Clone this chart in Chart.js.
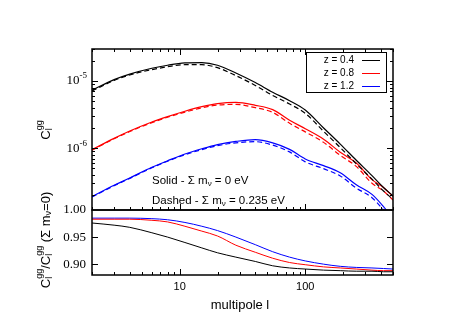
<!DOCTYPE html>
<html>
<head>
<meta charset="utf-8">
<script src="https://cdn.jsdelivr.net/npm/chart.js@4/dist/chart.umd.min.js"></script>
<style>
body { margin:0; background:#fff; width:463px; height:324px; position:relative; overflow:hidden; }
canvas { position:absolute; left:0; }
#topChart { top:0; }
#botChart { top:180px; }
</style>
</head>
<body>
<canvas id="topChart" width="463" height="212"></canvas>
<canvas id="botChart" width="463" height="144"></canvas>
<script>
// multipoles
var ell = [2, 3, 4, 6, 8, 11, 15, 20, 28, 40, 55, 75, 100, 140, 190, 255, 340, 420, 500];

// C_l^gg, solid = massless nu, dashed = sum m_nu 0.235 eV
var z04_solid  = [7.3e-6, 1.05e-5, 1.27e-5, 1.55e-5, 1.72e-5, 1.86e-5, 1.88e-5, 1.72e-5, 1.32e-5, 9.5e-6, 6.8e-6, 5.1e-6, 3.7e-6, 2.0e-6, 1.15e-6, 6.6e-7, 3.9e-7, 2.6e-7, 1.95e-7];
var z04_dashed = [7.12e-6, 1.02e-5, 1.23e-5, 1.48e-5, 1.63e-5, 1.75e-5, 1.75e-5, 1.58e-5, 1.205e-5, 8.6e-6, 6.1e-6, 4.55e-6, 3.3e-6, 1.78e-6, 1.02e-6, 5.85e-7, 3.46e-7, 2.3e-7, 1.73e-7];
var z08_solid  = [9.5e-7, 1.4e-6, 1.8e-6, 2.45e-6, 2.95e-6, 3.55e-6, 4.15e-6, 4.6e-6, 4.8e-6, 4.35e-6, 3.75e-6, 2.6e-6, 1.95e-6, 1.36e-6, 8.7e-7, 6.0e-7, 3.4e-7, 2.6e-7, 1.9e-7];
var z08_dashed = [9.34e-7, 1.38e-6, 1.77e-6, 2.4e-6, 2.89e-6, 3.44e-6, 3.99e-6, 4.38e-6, 4.49e-6, 4.01e-6, 3.42e-6, 2.35e-6, 1.75e-6, 1.22e-6, 7.8e-7, 5.35e-7, 3.0e-7, 2.3e-7, 1.69e-7];
var z12_solid  = [1.9e-7, 2.8e-7, 3.6e-7, 5.2e-7, 6.5e-7, 8.2e-7, 9.8e-7, 1.13e-6, 1.26e-6, 1.34e-6, 1.2e-6, 9.6e-7, 6.9e-7, 5.5e-7, 4.3e-7, 2.85e-7, 2.05e-7, 1.35e-7, 9.0e-8];
var z12_dashed = [1.87e-7, 2.76e-7, 3.55e-7, 5.1e-7, 6.4e-7, 8.0e-7, 9.5e-7, 1.09e-6, 1.2e-6, 1.25e-6, 1.11e-6, 8.8e-7, 6.25e-7, 4.95e-7, 3.85e-7, 2.55e-7, 1.83e-7, 1.2e-7, 8.0e-8];

// ratio massive / massless
var ratio_z04 = [0.976, 0.972, 0.968, 0.958, 0.950, 0.940, 0.930, 0.921, 0.913, 0.905, 0.897, 0.893, 0.891, 0.889, 0.888, 0.887, 0.887, 0.886, 0.886];
var ratio_z08 = [0.983, 0.983, 0.983, 0.981, 0.978, 0.970, 0.961, 0.952, 0.935, 0.922, 0.911, 0.903, 0.899, 0.895, 0.893, 0.891, 0.889, 0.888, 0.888];
var ratio_z12 = [0.985, 0.985, 0.985, 0.984, 0.982, 0.977, 0.970, 0.962, 0.950, 0.936, 0.923, 0.913, 0.906, 0.900, 0.896, 0.894, 0.893, 0.892, 0.891];

var labels = ["z = 0.4", "z = 0.8", "z = 1.2"];
var colors = ["#000000", "#ff0000", "#0000ff"];

// ticks
var xMajor = [10, 100];
var xMajorLabels = ["10", "100"];
var xMinor = [2,3,4,5,6,7,8,9,20,30,40,50,60,70,80,90,200,300,400,500];
var yTopMajor = [1e-5, 1e-6];
var yTopExp = ["-5", "-6"];
var yTopMinor = [2e-7,3e-7,4e-7,5e-7,6e-7,7e-7,8e-7,9e-7,2e-6,3e-6,4e-6,5e-6,6e-6,7e-6,8e-6,9e-6,2e-5,3e-5];
var yBotMajor = [1.00, 0.95, 0.90];
var yBotLabels = ["1.00", "0.95", "0.90"];

var SANS = "'Liberation Sans', Arial, sans-serif";
var SERIF = "'Liberation Serif', 'Times New Roman', serif";

function pts(ys) {
  return ell.map(function(l, i) { return {x: l, y: ys[i]}; });
}

function line(ys, color, dashed, width) {
  return {
    data: pts(ys),
    borderColor: color,
    borderWidth: width || 1.2,
    borderDash: dashed ? [5, 3] : [],
    pointRadius: 0,
    fill: false,
    cubicInterpolationMode: 'monotone'
  };
}

// text made of pieces; a piece with hold:true doesn't advance (sub/sup stack)
function rich(ctx, parts, x, y, align, rot) {
  var w = 0, held = 0;
  parts.forEach(function(p) {
    ctx.font = p.f;
    var pw = ctx.measureText(p.t).width;
    if (p.hold) held = pw; else { w += Math.max(pw, held); held = 0; }
  });
  ctx.save();
  ctx.translate(x, y);
  if (rot) ctx.rotate(rot);
  var cx = align === 'center' ? -w / 2 : (align === 'right' ? -w : 0);
  held = 0;
  ctx.fillStyle = '#000';
  ctx.textAlign = 'left';
  ctx.textBaseline = 'middle';
  parts.forEach(function(p) {
    ctx.font = p.f;
    ctx.fillText(p.t, cx, p.dy || 0);
    var pw = ctx.measureText(p.t).width;
    if (p.hold) held = pw; else { cx += Math.max(pw, held); held = 0; }
  });
  ctx.restore();
}

function frame(chart, o) {
  var ctx = chart.ctx, a = chart.chartArea;
  var xs = chart.scales.x, ys = chart.scales.y;
  ctx.save();
  ctx.strokeStyle = '#000';
  ctx.lineWidth = 1;
  ctx.beginPath();
  function xt(v, len) {
    var px = Math.round(xs.getPixelForValue(v)) + 0.5;
    if (o.xBottom) { ctx.moveTo(px, a.bottom); ctx.lineTo(px, a.bottom - len); }
    if (o.xTop) { ctx.moveTo(px, a.top); ctx.lineTo(px, a.top + len); }
  }
  function yt(v, len) {
    var py = Math.round(ys.getPixelForValue(v)) + 0.5;
    ctx.moveTo(a.left, py); ctx.lineTo(a.left + len, py);
    ctx.moveTo(a.right, py); ctx.lineTo(a.right - len, py);
  }
  xMajor.forEach(function(v) { xt(v, 6); });
  xMinor.forEach(function(v) { xt(v, 3); });
  o.yMajor.forEach(function(v) { yt(v, 6); });
  (o.yMinor || []).forEach(function(v) { yt(v, 3); });
  ctx.stroke();
  ctx.lineWidth = 1.5;
  ctx.strokeRect(a.left, a.top, a.right - a.left, a.bottom - a.top);
  ctx.restore();
}

var topDeco = {
  id: 'topDeco',
  afterDraw: function(chart) {
    var ctx = chart.ctx, ys = chart.scales.y;
    frame(chart, {xBottom: true, xTop: true, yMajor: yTopMajor, yMinor: yTopMinor});
    yTopMajor.forEach(function(v, i) {
      rich(ctx, [{t: "10", f: "13px " + SERIF}, {t: yTopExp[i], f: "9px " + SERIF, dy: -5}],
        87, ys.getPixelForValue(v), 'right');
    });
    // y title
    rich(ctx, [{t: "C", f: "13px " + SANS},
               {t: "gg", f: "9px " + SANS, dy: -6, hold: true},
               {t: "l", f: "9px " + SANS, dy: 4}], 46, 130, 'center', -Math.PI / 2);
    // legend
    ctx.save();
    ctx.strokeStyle = '#000';
    ctx.lineWidth = 1;
    ctx.strokeRect(306.5, 52.5, 80, 40);
    ctx.font = "10px " + SANS;
    ctx.textAlign = 'right';
    ctx.textBaseline = 'middle';
    [60, 73, 86].forEach(function(y, i) {
      ctx.fillStyle = '#000';
      ctx.fillText(labels[i], 354, y);
      ctx.strokeStyle = colors[i];
      ctx.beginPath();
      ctx.moveTo(362, y + 0.5);
      ctx.lineTo(380, y + 0.5);
      ctx.stroke();
    });
    ctx.restore();
    // annotation
    rich(ctx, [{t: "Solid - \u03A3 m", f: "11.5px " + SANS}, {t: "\u03BD", f: "8px " + SANS, dy: 3},
               {t: " = 0 eV", f: "11.5px " + SANS}], 152, 181, 'left');
    rich(ctx, [{t: "Dashed - \u03A3 m", f: "11.5px " + SANS}, {t: "\u03BD", f: "8px " + SANS, dy: 3},
               {t: " = 0.235 eV", f: "11.5px " + SANS}], 152, 201, 'left');
  }
};

var botDeco = {
  id: 'botDeco',
  afterDraw: function(chart) {
    var ctx = chart.ctx, xs = chart.scales.x, ys = chart.scales.y, a = chart.chartArea;
    frame(chart, {xBottom: true, xTop: false, yMajor: yBotMajor.slice(1)});
    yBotMajor.forEach(function(v, i) {
      rich(ctx, [{t: yBotLabels[i], f: "13px " + SERIF}], 86, ys.getPixelForValue(v), 'right');
    });
    xMajor.forEach(function(v, i) {
      rich(ctx, [{t: xMajorLabels[i], f: "11px " + SANS}], xs.getPixelForValue(v), a.bottom + 12, 'center');
    });
    rich(ctx, [{t: "multipole l", f: "13px " + SANS}], 240, a.bottom + 30, 'center');
    rich(ctx, [{t: "C", f: "13px " + SANS},
               {t: "gg", f: "9px " + SANS, dy: -6, hold: true},
               {t: "l", f: "9px " + SANS, dy: 4},
               {t: "/C", f: "13px " + SANS},
               {t: "gg", f: "9px " + SANS, dy: -6, hold: true},
               {t: "l", f: "9px " + SANS, dy: 4},
               {t: " (\u03A3 m", f: "13px " + SANS},
               {t: "\u03BD", f: "9px " + SANS, dy: 3},
               {t: "=0)", f: "13px " + SANS}], 46, 60, 'center', -Math.PI / 2);
  }
};

var common = {
  responsive: false,
  animation: false,
  events: [],
  plugins: { legend: { display: false }, tooltip: { enabled: false } }
};

new Chart(document.getElementById('topChart'), {
  type: 'line',
  data: {
    datasets: [
      line(z04_solid, colors[0], false), line(z04_dashed, colors[0], true),
      line(z08_solid, colors[1], false), line(z08_dashed, colors[1], true),
      line(z12_solid, colors[2], false), line(z12_dashed, colors[2], true)
    ]
  },
  options: Object.assign({}, common, {
    layout: { padding: { left: 92, right: 70, top: 49, bottom: 2 } },
    scales: {
      x: { type: 'logarithmic', min: 2, max: 500, display: false },
      y: { type: 'logarithmic', min: 1.2e-7, max: 3e-5, display: false }
    }
  }),
  plugins: [topDeco]
});

new Chart(document.getElementById('botChart'), {
  type: 'line',
  data: {
    datasets: [
      line(ratio_z04, colors[0], false, 1),
      line(ratio_z08, colors[1], false, 1),
      line(ratio_z12, colors[2], false, 1)
    ]
  },
  options: Object.assign({}, common, {
    layout: { padding: { left: 92, right: 70, top: 30, bottom: 49 } },
    scales: {
      x: { type: 'logarithmic', min: 2, max: 500, display: false },
      y: { min: 0.88, max: 1.0, display: false }
    }
  }),
  plugins: [botDeco]
});
</script>
</body>
</html>
